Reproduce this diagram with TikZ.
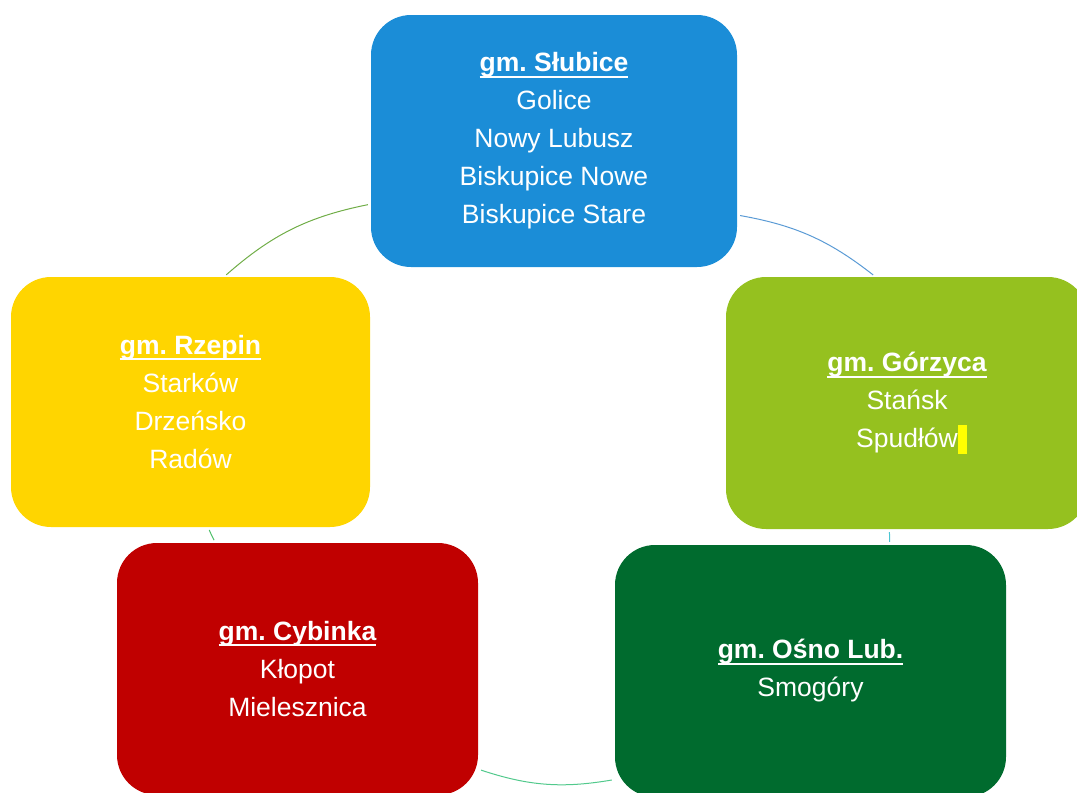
\documentclass[tikz,border=0pt]{standalone}
\usepackage{fontspec}
\setmainfont{Liberation Sans}
\usepackage{xcolor}
\usetikzlibrary{calc}
\definecolor{slubblue}{HTML}{1B8DD7}
\definecolor{gorlime}{HTML}{95C11F}
\definecolor{osnogreen}{HTML}{006B2E}
\definecolor{cybred}{HTML}{C00000}
\definecolor{rzepyellow}{HTML}{FFD500}
\definecolor{marker}{HTML}{FFFF00}
\definecolor{arcblue}{HTML}{5B9BD5}
\definecolor{arcteal}{HTML}{4CC6D2}
\definecolor{arcsea}{HTML}{52C98C}
\definecolor{arcgreen}{HTML}{4DBE68}
\definecolor{arcolive}{HTML}{70AD47}
\newcommand{\gmhead}[1]{\setbox0\hbox{\bfseries #1}\rlap{\rule[-0.22em]{\wd0}{0.07em}}\box0}
\frenchspacing

\begin{document}
\begin{tikzpicture}[x=1pt,y=-1pt,
  gmbox/.style={rounded corners=40pt,minimum height=252pt,align=center,text=white,
    font=\fontsize{26.5}{38}\selectfont,inner sep=0pt},
  cyc/.style={line width=1pt,shorten <=3pt,shorten >=3pt}]
  \useasboundingbox (0,0) rectangle (1077,793);
  \clip (0,0) rectangle (1077,793);
  \node[gmbox,fill=slubblue,minimum width=366pt] (slubice) at (554,141)
    {\gmhead{gm. Słubice}\\Golice\\Nowy Lubusz\\Biskupice Nowe\\Biskupice Stare};
  \node[gmbox,fill=gorlime,minimum width=362pt] (gorzyca) at (907,403)
    {\gmhead{gm. Górzyca}\\Stańsk\\Spudłów\rlap{\color{marker}\rule[-6pt]{9pt}{29pt}}};
  \node[gmbox,fill=osnogreen,minimum width=391pt] (osno) at (810.5,671)
    {\gmhead{gm. Ośno Lub.}\\Smogóry};
  \node[gmbox,fill=cybred,minimum width=361pt] (cybinka) at (297.5,669)
    {\gmhead{gm. Cybinka}\\Kłopot\\Mielesznica};
  \node[gmbox,fill=rzepyellow,minimum width=359pt,minimum height=250pt] (rzepin) at (190.5,402)
    {\gmhead{gm. Rzepin}\\Starków\\Drzeńsko\\Radów};
  \draw[cyc,arcblue] (slubice.-22) to[bend left=14] (gorzyca.104);
  \draw[cyc,arcteal] (gorzyca.-98) to[bend left=3] (osno.58);
  \draw[cyc,arcsea] (osno.-151) to[bend left=14] (cybinka.-29);
  \draw[cyc,arcgreen] (cybinka.123) to[bend left=3] (rzepin.-82);
  \draw[cyc,arcolive] (rzepin.75) to[bend left=15] (slubice.-161);
\end{tikzpicture}
\end{document}
